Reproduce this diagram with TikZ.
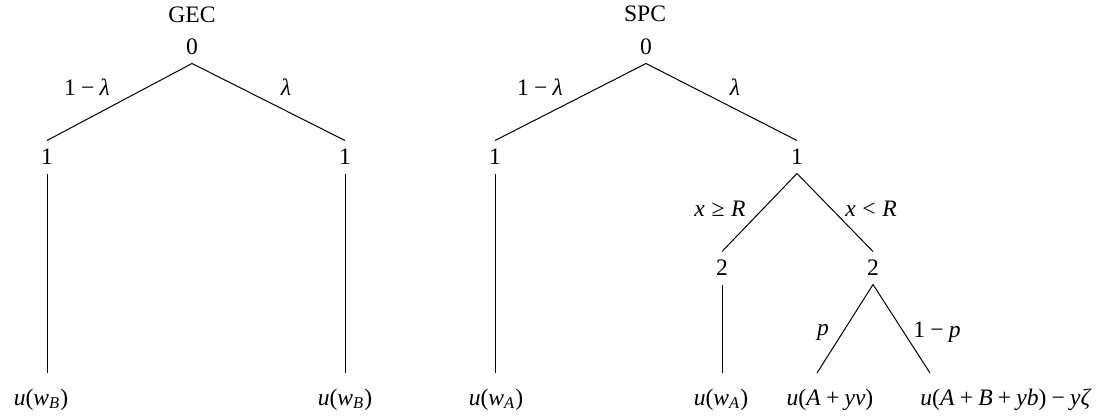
\documentclass[tikz,border=0pt]{standalone}
\usepackage{fontspec}
\setmainfont{Liberation Serif}
\newcommand{\mi}[1]{\textit{#1}}
\newcommand{\bop}[1]{\kern.22em#1\kern.22em}
\newcommand{\rel}[1]{\kern.28em#1\kern.28em}
\begin{document}
\begin{tikzpicture}[x=0.5pt,y=-0.5pt,line width=0.5pt,
  every node/.style={font=\fontsize{11.8pt}{14pt}\selectfont},
  dn/.style={inner sep=0pt,minimum height=16pt},
  elab/.style={inner sep=0pt},
  ttl/.style={inner sep=0pt},
  leaf/.style={anchor=base,inner sep=0pt}]
\useasboundingbox (0,0) rectangle (1106,419);
% GEC tree
\node[ttl] (gt) at (192,15) {GEC};
\node[dn] (g0) at (192,47) {0};
\node[dn] (g1l) at (47,157) {1};
\node[dn] (g1r) at (345,157) {1};
\coordinate (ge1) at (47,373);
\coordinate (ge2) at (345,373);
\node[leaf] (gl1) at (41,405) {\mi{u}(\mi{w}\textsubscript{\mi{B}})};
\node[leaf] (gl2) at (345,405) {\mi{u}(\mi{w}\textsubscript{\mi{B}})};
\node[elab] at (87,87) {1\bop{−}\mi{λ}};
\node[elab] at (286,87) {\mi{λ}};
\draw (g0.south) -- (g1l.north);
\draw (g0.south) -- (g1r.north);
\draw (g1l.south) -- (ge1);
\draw (g1r.south) -- (ge2);
% SPC tree
\node[ttl] (st) at (645,14) {SPC};
\node[dn] (s0) at (646,47) {0};
\node[dn] (s1l) at (495,157) {1};
\node[dn] (s1r) at (797,157) {1};
\node[dn] (s2l) at (722,268) {2};
\node[dn] (s2r) at (873,268) {2};
\coordinate (se1) at (495,373);
\coordinate (se2) at (722,373);
\coordinate (se3) at (817,373);
\coordinate (se4) at (930,373);
\node[leaf] (sl1) at (496,405) {\mi{u}(\mi{w}\textsubscript{\mi{A}})};
\node[leaf] (sl2) at (721,405) {\mi{u}(\mi{w}\textsubscript{\mi{A}})};
\node[leaf] (sl3) at (830,405) {\mi{u}(\mi{A}\bop{+}\mi{yv})};
\node[leaf] (sl4) at (1006,405) {\mi{u}(\mi{A}\bop{+}\mi{B}\bop{+}\mi{yb})\bop{−}\mi{yζ}};
\node[elab] at (540,87) {1\bop{−}\mi{λ}};
\node[elab] at (735,87) {\mi{λ}};
\node[elab] at (720,209) {\mi{x}\rel{≥}\mi{R}};
\node[elab] at (871,209) {\mi{x}\rel{<}\mi{R}};
\node[elab] at (823,332) {\mi{p}};
\node[elab] at (937,332) {1\bop{−}\mi{p}};
\draw (s0.south) -- (s1l.north);
\draw (s0.south) -- (s1r.north);
\draw (s1l.south) -- (se1);
\draw (s1r.south) -- (s2l.north);
\draw (s1r.south) -- (s2r.north);
\draw (s2l.south) -- (se2);
\draw (s2r.south) -- (se3);
\draw (s2r.south) -- (se4);
\end{tikzpicture}
\end{document}
